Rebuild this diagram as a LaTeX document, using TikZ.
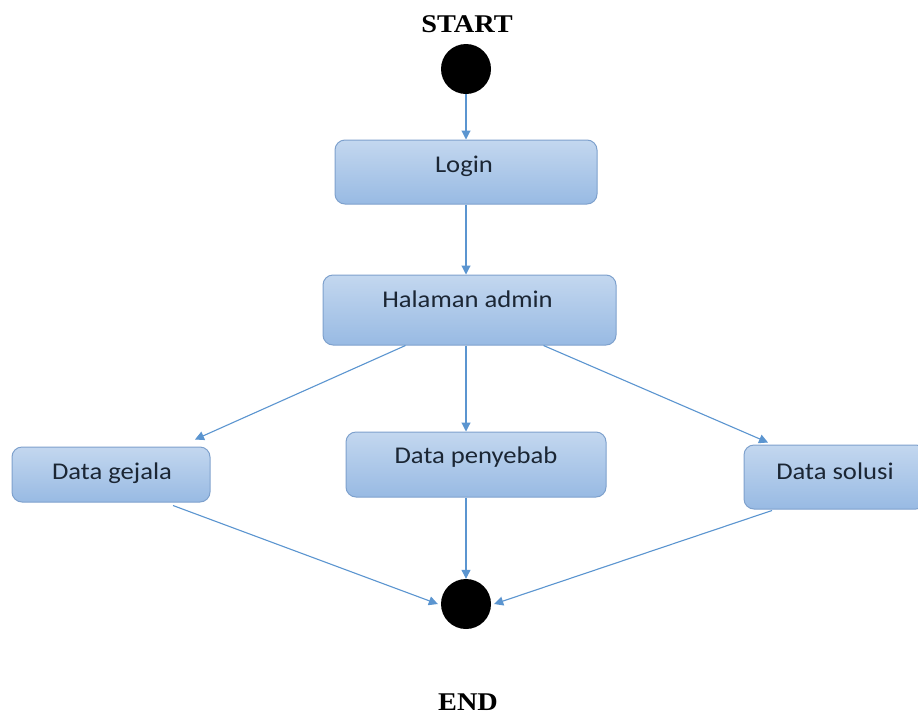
\documentclass[tikz,border=0pt]{standalone}
\usepackage{fontspec}
\setmainfont{Liberation Serif}
\newfontfamily\boxfont{Carlito}
\usetikzlibrary{arrows.meta}

\definecolor{boxtop}{HTML}{C3D7EF}
\definecolor{boxbot}{HTML}{98BAE3}
\definecolor{boxline}{HTML}{7EA1CD}
\definecolor{flow}{HTML}{5B95D0}
\definecolor{ink}{HTML}{1B2634}

% slightly widened lettering
\newcommand\stretchtext[1]{\scalebox{1.11}[1]{#1}}

\tikzset{
  actbox/.style={draw=boxline, line width=1pt, rounded corners=10pt,
                 top color=boxtop, bottom color=boxbot, inner sep=0pt},
  boxtext/.style={font=\boxfont\fontsize{24}{26}\selectfont, text=ink,
                  inner sep=0pt, anchor=base},
  dot/.style={circle, fill=black, minimum size=50pt, inner sep=0pt},
  flowarrow/.style={draw=flow, line width=1.1pt,
                    -{Triangle[length=9pt,width=9pt]}},
  heading/.style={font=\bfseries\fontsize{25.5}{28}\selectfont,
                  inner sep=0pt, anchor=base},
}

\begin{document}
\begin{tikzpicture}[x=1pt,y=1pt]
  \clip (0,0) rectangle (918,-718);
  \fill[white] (0,0) rectangle (918,-718);

  % initial and final states
  \node[heading] (starttxt) at (467,-32) {\stretchtext{START}};
  \node[dot] (start) at (466,-69) {};
  \node[dot] (end) at (466,-604) {};
  \node[heading] (endtxt) at (468,-710) {\stretchtext{END}};

  % activities
  \node[actbox, minimum width=262pt, minimum height=64pt] (login) at (466,-172) {};
  \node[boxtext] (logintxt) at (464,-172) {\stretchtext{Login}};

  \node[actbox, minimum width=293pt, minimum height=70pt] (hal) at (469.5,-310) {};
  \node[boxtext] (haltxt) at (467.5,-307) {\stretchtext{Halaman admin}};

  \node[actbox, minimum width=198pt, minimum height=55pt] (gejala) at (111,-474.5) {};
  \node[boxtext] (gejalatxt) at (112,-479) {\stretchtext{Data gejala}};

  \node[actbox, minimum width=260pt, minimum height=65pt] (peny) at (476,-464.5) {};
  \node[boxtext] (penytxt) at (476,-463) {\stretchtext{Data penyebab}};

  \node[actbox, minimum width=182pt, minimum height=64pt] (sol) at (835,-477) {};
  \node[boxtext] (soltxt) at (835,-479) {\stretchtext{Data solusi}};

  % control flow
  \draw[flowarrow] (start.south) -- (login.north);
  \draw[flowarrow] (login.south) -- (login |- hal.north);
  \draw[flowarrow] ([xshift=-64pt]hal.south) -- ([xshift=84pt,yshift=7pt]gejala.north);
  \draw[flowarrow] (login |- hal.south) -- (login |- peny.north);
  \draw[flowarrow] ([xshift=74pt]hal.south) -- ([xshift=-67pt,yshift=2pt]sol.north);
  \draw[flowarrow] ([xshift=62pt,yshift=-3pt]gejala.south) -- ([xshift=-3pt]end.west);
  \draw[flowarrow] (login |- peny.south) -- (end.north);
  \draw[flowarrow] ([xshift=-63pt,yshift=-1pt]sol.south) -- ([xshift=3pt]end.east);
\end{tikzpicture}
\end{document}
